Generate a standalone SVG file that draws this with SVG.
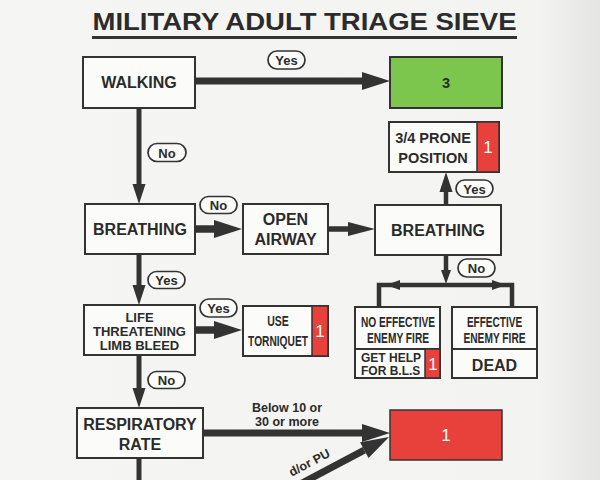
<svg xmlns="http://www.w3.org/2000/svg" width="600" height="480" viewBox="0 0 600 480">
<defs>
<linearGradient id="bg" x1="0" y1="0" x2="1" y2="0">
<stop offset="0" stop-color="#f5f5f3"/>
<stop offset="0.9" stop-color="#f3f3f1"/>
<stop offset="1" stop-color="#e4e4e2"/>
</linearGradient>
<marker id="mH" markerUnits="userSpaceOnUse" markerWidth="28" markerHeight="18" refX="0" refY="9" orient="auto" overflow="visible">
<path d="M0,0 L28,9 L0,18 Z" fill="#333"/>
</marker>
<marker id="mM" markerUnits="userSpaceOnUse" markerWidth="27" markerHeight="14" refX="0" refY="7" orient="auto" overflow="visible">
<path d="M0,0 L27,7 L0,14 Z" fill="#333"/>
</marker>
<marker id="mS" markerUnits="userSpaceOnUse" markerWidth="20" markerHeight="13" refX="0" refY="6.5" orient="auto" overflow="visible">
<path d="M0,0 L20,6.5 L0,13 Z" fill="#333"/>
</marker>
<marker id="mT" markerUnits="userSpaceOnUse" markerWidth="14" markerHeight="10" refX="0" refY="5" orient="auto" overflow="visible">
<path d="M0,0 L14,5 L0,10 Z" fill="#333"/>
</marker>
<style>
.box{fill:#fbfbfa;stroke:#333;stroke-width:2}
.green{fill:#7cc64e;stroke:#333;stroke-width:2}
.red{fill:#e8403a;stroke:#333;stroke-width:1.5}
.pill{fill:#fbfbfa;stroke:#333;stroke-width:1.7}
.t{font-family:"Liberation Sans",Arial,sans-serif;font-weight:bold;fill:#2b2b2b;text-anchor:middle}
.c{font-family:"Liberation Sans",Arial,sans-serif;font-weight:bold;fill:#2b2b2b;text-anchor:middle;font-size:15px}
.w{font-family:"Liberation Sans",Arial,sans-serif;fill:#ffffff;text-anchor:middle;font-size:17px}
.f16{font-size:16px}
.f13{font-size:13px}
.f12{font-size:12.5px}
.ln{fill:none;stroke:#333}
</style>
</defs>
<rect x="0" y="0" width="600" height="480" fill="url(#bg)"/>

<g id="title">
<text class="t" x="304.5" y="30" font-size="24" textLength="424" lengthAdjust="spacingAndGlyphs">MILITARY ADULT TRIAGE SIEVE</text>
<line x1="92" y1="37.5" x2="517" y2="37.5" stroke="#333" stroke-width="3"/>
</g>

<g id="connectors">
<path class="ln" d="M195,81 H362" stroke-width="7" marker-end="url(#mH)"/>
<path class="ln" d="M139,108 V184" stroke-width="5" marker-end="url(#mS)"/>
<path class="ln" d="M195,229 H214" stroke-width="7.5" marker-end="url(#mH)"/>
<path class="ln" d="M328,229 H348" stroke-width="5.5" marker-end="url(#mM)"/>
<path class="ln" d="M446,205 V192" stroke-width="4.5" marker-end="url(#mS)"/>
<path class="ln" d="M446,255 V270" stroke-width="4.5" marker-end="url(#mT)"/>
<path class="ln" d="M379,307 V285 H512 V307" stroke-width="4.5"/>
<polygon points="386,285 400,280 400,290" fill="#333"/>
<polygon points="506,285 492,280 492,290" fill="#333"/>
<path class="ln" d="M139,254 V285" stroke-width="5" marker-end="url(#mS)"/>
<path class="ln" d="M195,330 H214" stroke-width="7.5" marker-end="url(#mH)"/>
<path class="ln" d="M139,355 V388" stroke-width="5" marker-end="url(#mS)"/>
<path class="ln" d="M203,433 H362" stroke-width="7" marker-end="url(#mH)"/>
<path class="ln" d="M289,490 L364.3,450.1" stroke-width="7" marker-end="url(#mH)"/>
<path class="ln" d="M139,458 V480" stroke-width="5"/>
<text class="t f12" x="287" y="412">Below 10 or</text>
<text class="t f12" x="287" y="426">30 or more</text>
<text class="t f12" x="331" y="456" style="text-anchor:end" transform="rotate(-28 331 456)">d/or PU</text>
</g>

<g id="pills">
<rect class="pill" x="268" y="51" width="37" height="18" rx="9"/>
<text class="t f13" x="286.5" y="65">Yes</text>
<rect class="pill" x="148" y="143.5" width="38" height="18" rx="9"/>
<text class="t f13" x="167" y="157.5">No</text>
<rect class="pill" x="200" y="196.5" width="37" height="17" rx="8.5"/>
<text class="t f13" x="218.5" y="210">No</text>
<rect class="pill" x="456" y="180" width="37" height="17" rx="8.5"/>
<text class="t f13" x="474.5" y="193.5">Yes</text>
<rect class="pill" x="458" y="259" width="37" height="18" rx="9"/>
<text class="t f13" x="476.5" y="273">No</text>
<rect class="pill" x="148" y="271.5" width="37" height="17" rx="8.5"/>
<text class="t f13" x="166.5" y="285">Yes</text>
<rect class="pill" x="200" y="299" width="37" height="18" rx="9"/>
<text class="t f13" x="218.5" y="313">Yes</text>
<rect class="pill" x="148" y="371.5" width="37" height="17" rx="8.5"/>
<text class="t f13" x="166.5" y="385">No</text>
</g>

<g id="walking">
<rect class="box" x="83" y="57" width="112" height="51"/>
<text class="t f16" x="139" y="88">WALKING</text>
</g>

<g id="p3">
<rect class="green" x="390" y="57" width="112" height="51"/>
<text class="t" x="446" y="87.5" font-size="14.5">3</text>
</g>

<g id="breathing">
<rect class="box" x="85" y="204" width="110" height="50"/>
<text class="t f16" x="140" y="235">BREATHING</text>
</g>

<g id="open-airway">
<rect class="box" x="243" y="204" width="85" height="50"/>
<text class="t f16" x="285.5" y="225">OPEN</text>
<text class="t f16" x="285.5" y="245">AIRWAY</text>
</g>

<g id="breathing2">
<rect class="box" x="375" y="205" width="126" height="50"/>
<text class="t f16" x="438" y="236">BREATHING</text>
</g>

<g id="prone">
<rect class="box" x="389" y="122" width="110" height="50"/>
<rect class="red" x="477" y="122" width="22" height="50"/>
<text class="t" x="433" y="143" font-size="14.5">3/4 PRONE</text>
<text class="t" x="433" y="163" font-size="14.5">POSITION</text>
<text class="w" x="488" y="153">1</text>
</g>

<g id="limb-bleed">
<rect class="box" x="84" y="305" width="111" height="50"/>
<text class="t f13" x="139.5" y="322">LIFE</text>
<text class="t f13" x="139.5" y="336">THREATENING</text>
<text class="t f13" x="139.5" y="349.5">LIMB BLEED</text>
</g>

<g id="torniquet">
<rect class="box" x="243" y="306" width="85" height="50"/>
<rect class="red" x="312" y="306" width="16" height="50"/>
<text class="c" x="0" y="0" transform="translate(278 325.5) scale(0.7 1)">USE</text>
<text class="c" x="0" y="0" transform="translate(278 345.5) scale(0.68 1)">TORNIQUET</text>
<text class="w" x="320" y="337">1</text>
</g>

<g id="resp-rate">
<rect class="box" x="77" y="408" width="126" height="50"/>
<text class="t f16" x="140" y="430">RESPIRATORY</text>
<text class="t f16" x="140" y="449.5">RATE</text>
</g>

<g id="p1">
<rect class="red" x="390" y="410" width="112" height="50" stroke-width="2"/>
<text class="w" x="446" y="441">1</text>
</g>

<g id="no-enemy-fire">
<rect class="box" x="355" y="307" width="85" height="71"/>
<line x1="355" y1="349" x2="440" y2="349" stroke="#333" stroke-width="2"/>
<rect class="red" x="425" y="349" width="15" height="29"/>
<text class="c" x="0" y="0" transform="translate(398 326.5) scale(0.68 1)">NO EFFECTIVE</text>
<text class="c" x="0" y="0" transform="translate(398 342.5) scale(0.68 1)">ENEMY FIRE</text>
<text class="t" x="361" y="362" font-size="12" style="text-anchor:start">GET HELP</text>
<text class="t" x="361" y="375" font-size="12" style="text-anchor:start">FOR B.L.S</text>
<text class="w" x="433" y="370">1</text>
</g>

<g id="enemy-fire">
<rect class="box" x="452" y="307" width="85" height="71"/>
<line x1="452" y1="349" x2="537" y2="349" stroke="#333" stroke-width="2"/>
<text class="c" x="0" y="0" transform="translate(494.5 326.5) scale(0.67 1)">EFFECTIVE</text>
<text class="c" x="0" y="0" transform="translate(494.5 342.5) scale(0.68 1)">ENEMY FIRE</text>
<text class="t f16" x="494.5" y="371">DEAD</text>
</g>
</svg>
